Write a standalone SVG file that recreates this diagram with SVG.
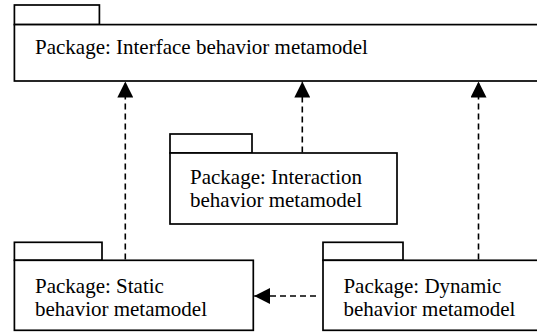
<svg xmlns="http://www.w3.org/2000/svg" width="537" height="332" viewBox="0 0 537 332">
<style>
.box{fill:#fff;stroke:#000;stroke-width:1.7}
.lbl{font-size:21px;fill:#000}
.dep{fill:none;stroke:#000;stroke-width:1.6;stroke-dasharray:6 4}
</style>
<defs>
<marker id="arr" markerUnits="userSpaceOnUse" markerWidth="16" markerHeight="16" viewBox="0 0 16 16" refX="16" refY="8" orient="auto">
<path d="M0,0 L16,8 L0,16 Z" fill="#000"/>
</marker>
</defs>
<rect width="537" height="332" fill="#fff"/>
<g font-family="'Liberation Serif', 'Times New Roman', Tinos, 'DejaVu Serif', serif">
<g id="interface">
<rect class="box" x="14.4" y="5" width="85" height="19.6"/>
<rect class="box" x="14.4" y="24.6" width="540" height="56.4"/>
<text class="lbl" x="35" y="54">Package: Interface behavior metamodel</text>
</g>
<g id="interaction">
<rect class="box" x="170" y="134" width="82" height="19"/>
<rect class="box" x="170" y="153" width="227" height="71"/>
<text class="lbl" x="190" y="184">Package: Interaction</text>
<text class="lbl" x="190" y="206.5">behavior metamodel</text>
</g>
<g id="static">
<rect class="box" x="14.4" y="242.3" width="87.6" height="18"/>
<rect class="box" x="14.4" y="260.3" width="238.9" height="70"/>
<text class="lbl" x="35" y="292.5">Package: Static</text>
<text class="lbl" x="35" y="315.5">behavior metamodel</text>
</g>
<g id="dynamic">
<rect class="box" x="323" y="242.3" width="80" height="18"/>
<rect class="box" x="323" y="260.3" width="240" height="70"/>
<text class="lbl" x="343.4" y="292.5">Package: Dynamic</text>
<text class="lbl" x="343.4" y="315.5">behavior metamodel</text>
</g>
</g>
<g id="connectors">
<line class="dep" x1="125.3" y1="259.5" x2="125.3" y2="81.5" marker-end="url(#arr)"/>
<line class="dep" x1="302.3" y1="152.5" x2="302.3" y2="81.5" marker-end="url(#arr)"/>
<line class="dep" x1="478.5" y1="259.5" x2="478.5" y2="81.5" marker-end="url(#arr)"/>
<line class="dep" x1="316" y1="296" x2="254.2" y2="296" marker-end="url(#arr)"/>
</g>
</svg>
